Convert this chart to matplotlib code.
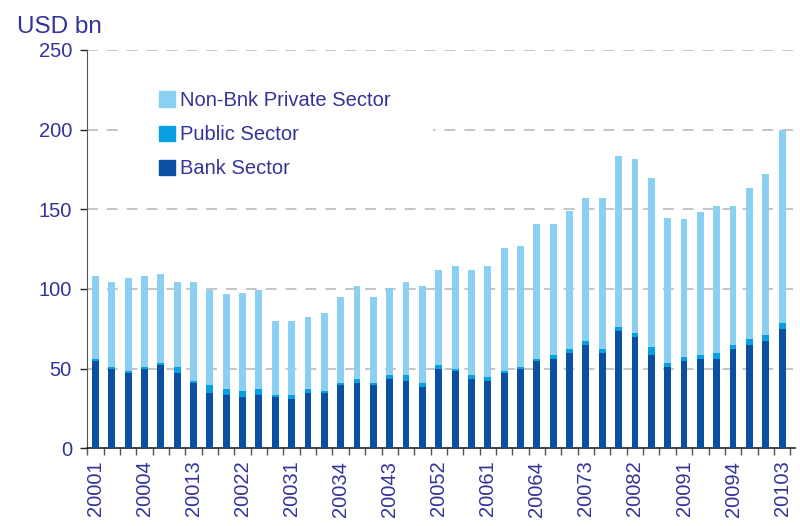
import matplotlib.pyplot as plt
import numpy as np
from matplotlib.patches import Patch, Rectangle

# quarterly categories 2000Q1 .. 2010Q3, written as YYYYQ
quarters = [f"{y}{q}" for y in range(2000, 2011) for q in range(1, 5)][:43]

# USD bn per quarter
bank = [54.6, 49.6, 47.1, 49.6, 52.1, 47.1, 40.8, 34.6, 33.3, 32.1, 33.3,
        32.1, 30.8, 34.6, 34.6, 39.6, 40.8, 39.6, 43.3, 42.1, 38.3, 49.6,
        48.3, 43.3, 42.1, 47.1, 49.6, 54.6, 55.8, 59.6, 64.6, 59.6, 73.3,
        69.6, 58.3, 50.8, 54.6, 55.8, 55.8, 62.1, 64.6, 67.1, 74.6]
public = [1.2, 1.2, 1.2, 1.2, 1.2, 3.7, 1.3, 5.0, 3.8, 3.7, 3.8,
          1.2, 2.5, 2.5, 1.2, 1.2, 2.5, 1.2, 2.5, 3.7, 2.5, 2.5,
          1.3, 2.5, 2.5, 1.2, 1.2, 1.2, 2.5, 2.5, 2.5, 2.5, 2.5,
          2.5, 5.0, 2.5, 2.5, 2.5, 3.8, 2.5, 3.7, 3.7, 3.7]
nonbank = [52.5, 53.8, 58.8, 57.5, 56.3, 53.8, 62.5, 59.4, 59.4, 61.3, 62.5,
           46.3, 46.3, 45.0, 48.8, 53.8, 58.8, 53.8, 55.0, 58.8, 61.3, 60.0,
           65.0, 66.3, 70.0, 77.5, 76.3, 85.0, 82.5, 86.9, 90.0, 95.0, 107.5,
           109.4, 106.3, 91.3, 86.9, 90.0, 92.5, 87.5, 95.0, 101.3, 121.3]

c_bank = "#0b4fa3"
c_pub = "#089fe3"
c_nonbank = "#89d0f2"
txt = "#333399"

plt.rcParams["font.family"] = ["Liberation Sans", "DejaVu Sans"]

x = np.arange(len(quarters))
bank = np.array(bank)
public = np.array(public)
nonbank = np.array(nonbank)

fig = plt.figure(figsize=(8, 5.26), dpi=100)
ax = fig.add_axes([0.109, 0.148, 0.885, 0.757])

w = 0.42
ax.bar(x, bank, w, color=c_bank, zorder=3)
ax.bar(x, public, w, bottom=bank, color=c_pub, zorder=3)
ax.bar(x, nonbank, w, bottom=bank + public, color=c_nonbank, zorder=3)

ax.set_ylim(0, 250)
ax.set_xlim(-0.5, 42.8)
ax.set_yticks(np.arange(0, 251, 50))
for v in range(50, 251, 50):
    ax.axhline(v, color="#c0c0c0", lw=1.3, ls=(0, (6, 5)), zorder=1)

# labels every third quarter, tick marks on the category boundaries
ax.set_xticks(x[::3])
ax.set_xticklabels(quarters[::3], rotation=90)
ax.set_xticks(np.arange(-0.5, 43, 1), minor=True)
ax.tick_params(axis="x", which="major", length=0, pad=9, labelsize=14.5, labelcolor=txt)
ax.tick_params(axis="x", which="minor", length=5, width=1, color="#555555")
ax.tick_params(axis="y", length=5, width=1, color="#222222", labelsize=14.5,
               labelcolor=txt, pad=6)

for s in ["top", "right"]:
    ax.spines[s].set_visible(False)
ax.spines["left"].set_color("#555555")
ax.spines["bottom"].set_color("#222222")
ax.spines["bottom"].set_linewidth(1.2)

fig.text(0.021, 0.937, "USD bn", fontsize=17.5, color=txt)

# white panel behind the legend hides the gridline there
ax.add_patch(Rectangle((0.053, 0.624), 0.435, 0.352, transform=ax.transAxes,
                       facecolor="white", edgecolor="none", zorder=2))

handles = [Patch(color=c_nonbank), Patch(color=c_pub), Patch(color=c_bank)]
labels = ["Non-Bnk Private Sector", "Public Sector", "Bank Sector"]
leg = ax.legend(handles, labels, loc="upper left", bbox_to_anchor=(0.076, 0.942),
                frameon=False, fontsize=14.5, labelcolor=txt, handlelength=0.8,
                handleheight=0.8, handletextpad=0.25, labelspacing=0.75)
leg.set_zorder(5)

fig.savefig("out.png", dpi=100)
